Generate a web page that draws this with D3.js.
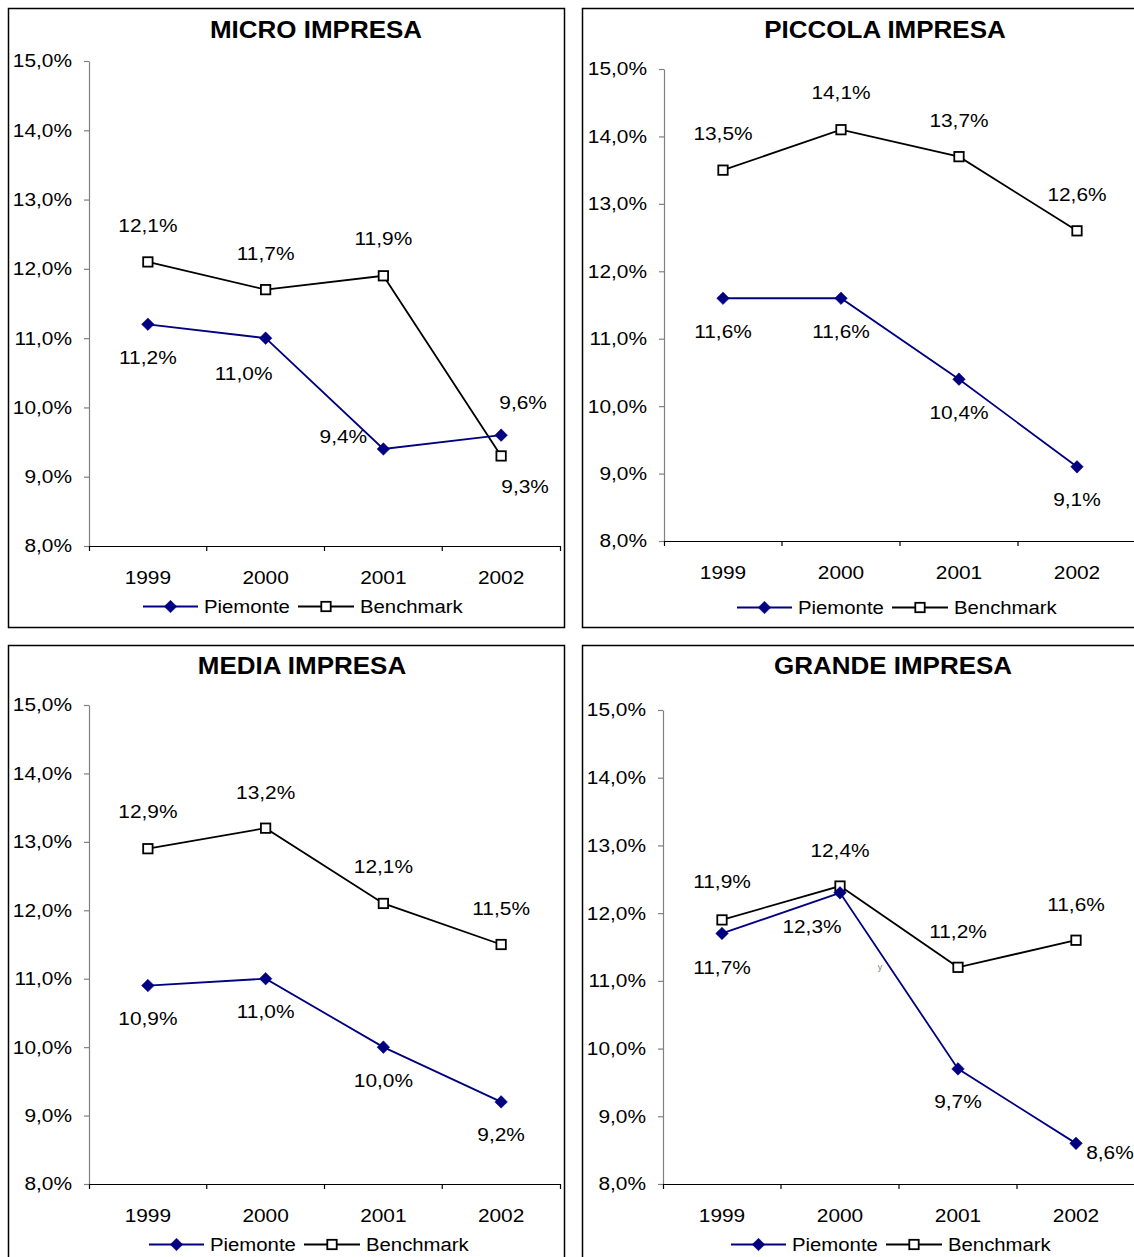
<!DOCTYPE html>
<html>
<head>
<meta charset="utf-8">
<script src="https://cdn.jsdelivr.net/npm/d3@7/dist/d3.min.js"></script>
<style>
  html, body { margin: 0; padding: 0; background: #fff; }
  svg { display: block; }
  text { font-family: "Liberation Sans", Arial, sans-serif; fill: #000; }
</style>
</head>
<body>
<script>
// ---- data -------------------------------------------------------------
const years = ["1999", "2000", "2001", "2002"];
const titles = ["MICRO IMPRESA", "PICCOLA IMPRESA", "MEDIA IMPRESA", "GRANDE IMPRESA"];
const seriesNames = ["Piemonte", "Benchmark"];
const yTicks = [8, 9, 10, 11, 12, 13, 14, 15];

const piemonteMicro    = [11.2, 11.0, 9.4, 9.6];
const benchmarkMicro   = [12.1, 11.7, 11.9, 9.3];
const piemontePiccola  = [11.6, 11.6, 10.4, 9.1];
const benchmarkPiccola = [13.5, 14.1, 13.7, 12.6];
const piemonteMedia    = [10.9, 11.0, 10.0, 9.2];
const benchmarkMedia   = [12.9, 13.2, 12.1, 11.5];
const piemonteGrande   = [11.7, 12.3, 9.7, 8.6];
const benchmarkGrande  = [11.9, 12.4, 11.2, 11.6];

// ---- layout -----------------------------------------------------------
const W = 1134, H = 1257;
const SX = 1.13;               // horizontal stretch applied to all text
const NAVY = "#000080";

const panels = [
  { title: titles[0], p: piemonteMicro, b: benchmarkMicro,
    frame: [8, 8, 564, 627], x0: 89, x1: 560, yTop: 61, yBot: 546,
    titleX: 316, titleY: 38, legX: 143, legY: 613,
    pOff: [[0, 33], [-22, 35], [-40, -13], [22, -33]],
    bOff: [[0, -36], [0, -36], [0, -37], [24, 31]] },
  { title: titles[1], p: piemontePiccola, b: benchmarkPiccola,
    frame: [582, 8, 1145, 627], x0: 664, x1: 1136, yTop: 69, yBot: 541,
    titleX: 885, titleY: 38, legX: 737, legY: 614,
    pOff: [[0, 33], [0, 33], [0, 33], [0, 33]],
    bOff: [[0, -37], [0, -37], [0, -36], [0, -36]] },
  { title: titles[2], p: piemonteMedia, b: benchmarkMedia,
    frame: [8, 645, 564, 1270], x0: 89, x1: 560, yTop: 705, yBot: 1184,
    titleX: 302, titleY: 674, legX: 149, legY: 1251,
    pOff: [[0, 33], [0, 33], [0, 33], [0, 33]],
    bOff: [[0, -37], [0, -36], [0, -37], [0, -36]] },
  { title: titles[3], p: piemonteGrande, b: benchmarkGrande,
    frame: [582, 645, 1145, 1270], x0: 663, x1: 1135, yTop: 710, yBot: 1184,
    titleX: 893, titleY: 674, legX: 731, legY: 1251,
    pOff: [[0, 34], [-28, 34], [0, 33], [34, 9]],
    bOff: [[0, -38], [0, -36], [0, -36], [0, -36]],
    stray: [880, 970] }
];

const fmtPct = d => d3.format(".1f")(d).replace(".", ",") + "%";

const svg = d3.select("body").append("svg")
  .attr("width", W).attr("height", H)
  .attr("viewBox", `0 0 ${W} ${H}`);

function addText(g, x, y, s, size, anchor = "middle", weight = "normal") {
  return g.append("text")
    .attr("transform", `translate(${x},${y}) scale(${SX},1)`)
    .attr("text-anchor", anchor)
    .attr("font-size", size)
    .attr("font-weight", weight)
    .text(s);
}

const diamond = d3.symbol().type(d3.symbolDiamond2).size(72);

function drawDiamond(g, x, y) {
  g.append("path")
    .attr("d", "M0,-6.3L6.3,0L0,6.3L-6.3,0Z")
    .attr("transform", `translate(${x},${y})`)
    .attr("fill", NAVY).attr("stroke", NAVY).attr("stroke-width", 0.5);
}
function drawSquare(g, x, y) {
  g.append("rect")
    .attr("x", x - 4.7).attr("y", y - 4.7)
    .attr("width", 9.4).attr("height", 9.4)
    .attr("fill", "#fff").attr("stroke", "#000").attr("stroke-width", 1.8);
}

panels.forEach(pn => {
  const g = svg.append("g");
  const [fx0, fy0, fx1, fy1] = pn.frame;

  g.append("rect")
    .attr("x", fx0 + 0.5).attr("y", fy0 + 0.5)
    .attr("width", fx1 - fx0).attr("height", fy1 - fy0)
    .attr("fill", "#fff").attr("stroke", "#000").attr("stroke-width", 1.5);

  addText(g, pn.titleX, pn.titleY, pn.title, 23, "middle", "bold");

  const x = d3.scaleBand().domain(years).range([pn.x0, pn.x1]);
  const y = d3.scaleLinear().domain([8, 15]).range([pn.yBot, pn.yTop]);
  const cx = d => x(d) + x.bandwidth() / 2;

  // value axis
  const ya = g.append("g")
    .attr("transform", `translate(${pn.x0},0)`)
    .call(d3.axisLeft(y).tickValues(yTicks).tickFormat(fmtPct)
      .tickSize(5).tickSizeOuter(0).tickPadding(10));
  ya.select(".domain").attr("stroke", "#808080").attr("stroke-width", 1.2);
  ya.selectAll(".tick line").attr("stroke", "#808080").attr("stroke-width", 1.2);
  ya.selectAll(".tick text")
    .attr("font-size", 18.5)
    .attr("font-family", "\"Liberation Sans\", Arial, sans-serif")
    .attr("fill", "#000")
    .attr("transform", `scale(${SX},1)`);

  // category axis
  const xa = g.append("g")
    .attr("transform", `translate(0,${pn.yBot})`)
    .call(d3.axisBottom(x).tickSize(0).tickSizeOuter(5).tickPadding(25));
  xa.select(".domain").attr("stroke", "#000").attr("stroke-width", 1.2);
  xa.selectAll(".tick text")
    .attr("font-size", 18.5)
    .attr("font-family", "\"Liberation Sans\", Arial, sans-serif")
    .attr("fill", "#000")
    .attr("transform", `scale(${SX},1)`);
  xa.selectAll(".boundary")
    .data(years.slice(1))
    .join("line")
    .attr("x1", d => x(d)).attr("x2", d => x(d))
    .attr("y1", 0).attr("y2", 5)
    .attr("stroke", "#000").attr("stroke-width", 1.2);

  // series
  const line = d3.line().x((v, i) => cx(years[i])).y(v => y(v));
  g.append("path").datum(pn.b).attr("d", line)
    .attr("fill", "none").attr("stroke", "#000").attr("stroke-width", 1.8);
  g.append("path").datum(pn.p).attr("d", line)
    .attr("fill", "none").attr("stroke", NAVY).attr("stroke-width", 1.8);

  pn.b.forEach((v, i) => drawSquare(g, cx(years[i]), y(v)));
  pn.p.forEach((v, i) => drawDiamond(g, cx(years[i]), y(v)));

  // data labels
  pn.b.forEach((v, i) => {
    const [dx, dy] = pn.bOff[i];
    addText(g, cx(years[i]) + dx, y(v) + dy + 6.5, fmtPct(v), 18.5);
  });
  pn.p.forEach((v, i) => {
    const [dx, dy] = pn.pOff[i];
    addText(g, cx(years[i]) + dx, y(v) + dy + 6.5, fmtPct(v), 18.5);
  });

  if (pn.stray) {
    g.append("text").attr("x", pn.stray[0]).attr("y", pn.stray[1])
      .attr("font-size", 9).attr("fill", "#808080").attr("text-anchor", "middle")
      .style("fill", "#808080").text("y");
  }

  // legend
  const lg = g.append("g").attr("transform", `translate(${pn.legX},${pn.legY - 6.5})`);
  lg.append("line").attr("x1", 0).attr("x2", 55).attr("y1", 0).attr("y2", 0)
    .attr("stroke", NAVY).attr("stroke-width", 1.8);
  drawDiamond(lg, 27.5, 0);
  addText(lg, 61, 6.5, seriesNames[0], 18, "start");
  lg.append("line").attr("x1", 155).attr("x2", 211).attr("y1", 0).attr("y2", 0)
    .attr("stroke", "#000").attr("stroke-width", 1.8);
  drawSquare(lg, 183, 0);
  addText(lg, 217, 6.5, seriesNames[1], 18, "start");
});
</script>
</body>
</html>
